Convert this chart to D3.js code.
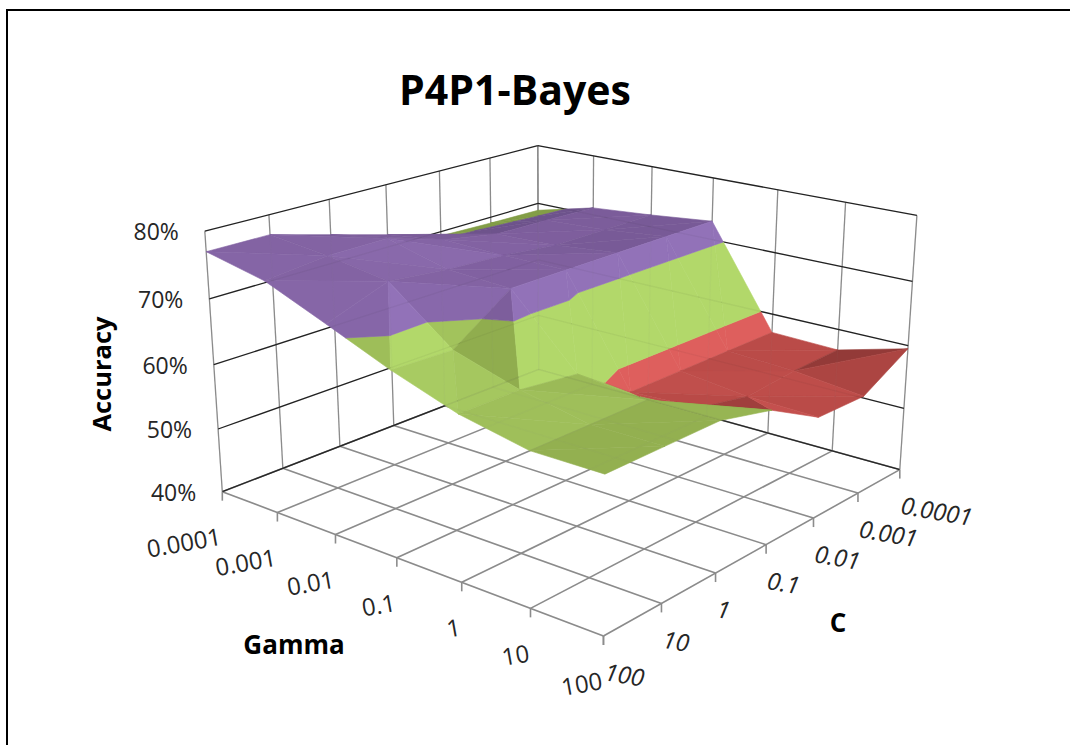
<!DOCTYPE html>
<html><head><meta charset="utf-8">
<script src="https://cdn.jsdelivr.net/npm/d3@7"></script>
<style>html,body{margin:0;background:#fff}svg{display:block}text{font-family:"Open Sans",sans-serif}</style></head>
<body><svg id="c" width="1070" height="745"></svg>
<script>
const gammaLabels=["0.0001","0.001","0.01","0.1","1","10","100"];
const cLabels=["100","10","1","0.1","0.01","0.001","0.0001"];
const zTicks=[40,50,60,70,80];
// accuracy per gamma row, C ordered 100 .. 0.0001
const g0=[77,77,74.5,72,69.3,69,68.8];
const g1=[75,76,76,73.3,71.7,71.5,71.2];
const g2=[71.2,74.5,73.5,73,72,72,72];
const g3=[67.3,67,73,73,73,73,73];
const g4=[64,64,63,57,57,57,57];
const g5=[62,62,62,57.5,55.8,56.5,56.7];
const g6=[62,62,62,60,55.5,55.3,59.5];
const accuracy=[g0,g1,g2,g3,g4,g5,g6];
// fold direction of each grid cell: 0 = low-low to high-high corner, 1 = the other diagonal
const f0=[0,0,0,0,0,0];
const f1=[0,0,0,0,0,0];
const f2=[1,0,0,0,0,0];
const f3=[1,1,1,1,1,1];
const f4=[0,0,1,0,0,0];
const f5=[0,0,0,1,0,0];
const folds=[f0,f1,f2,f3,f4,f5];

const svg=d3.select("#c");
const gS=d3.scalePoint(gammaLabels,[0,1]), cS=d3.scalePoint(cLabels,[0,1]), zS=d3.scaleLinear([40,80],[0,1]);
// camera calibration: box position -> pixel, solved to a projective camera
const calib=[[0,0,0,222,491],[1,0,0,603,636],[1,1,0,900,469],[0,1,0,538,370],[0,0,1,205,232],[1,1,1,917,216],[0,1,1,538,143],
[.5,0,0,396,559],[1,.5,0,767,544],[0,.5,0,395,425],[.5,1,1,713,179],[0,0,.5,214,364],[1,1,.5,908,345],[0,1,.5,538,262]];
function solve(A,b){const n=b.length;const M=A.map((r,i)=>[...r,b[i]]);
 for(let i=0;i<n;i++){let p=i;for(let k=i+1;k<n;k++)if(Math.abs(M[k][i])>Math.abs(M[p][i]))p=k;[M[i],M[p]]=[M[p],M[i]];
  for(let k=0;k<n;k++)if(k!==i){const f=M[k][i]/M[i][i];for(let j=i;j<=n;j++)M[k][j]-=f*M[i][j];}}
 return M.map((r,i)=>r[n]/r[i]);}
const rows=[],rhs=[];
calib.forEach(([X,Y,Z,u,v])=>{rows.push([X,Y,Z,1,0,0,0,0,-u*X,-u*Y,-u*Z]);rhs.push(u);rows.push([0,0,0,0,X,Y,Z,1,-v*X,-v*Y,-v*Z]);rhs.push(v);});
const AtA=d3.range(11).map(i=>d3.range(11).map(j=>d3.sum(rows,r=>r[i]*r[j])));
const Atb=d3.range(11).map(i=>d3.sum(rows,(r,k)=>r[i]*rhs[k]));
const P=solve(AtA,Atb);
function proj(X,Y,Z){const w=P[8]*X+P[9]*Y+P[10]*Z+1;return [(P[0]*X+P[1]*Y+P[2]*Z+P[3])/w,(P[4]*X+P[5]*Y+P[6]*Z+P[7])/w];}
const lineP=d3.line(), polyP=d3.line().curve(d3.curveLinearClosed);
const gridGray="#8c8c8c", wallDark="#222";
function grid(host,op){
 const seg=(a,b,col,w)=>host.append("path").attr("d",lineP([proj(...a),proj(...b)])).attr("stroke",col).attr("stroke-width",w).attr("fill","none").attr("stroke-opacity",op);
 gammaLabels.forEach(l=>{const g=gS(l);seg([g,1,0],[g,1,1],gridGray,1.3);seg([g,0,0],[g,1,0],gridGray,1.6);});
 cLabels.forEach(l=>{const c=cS(l);seg([0,c,0],[0,c,1],gridGray,1.3);seg([0,c,0],[1,c,0],gridGray,1.6);});
 zTicks.forEach(z=>{const k=zS(z);seg([0,0,k],[0,1,k],wallDark,1.3);seg([0,1,k],[1,1,k],wallDark,1.3);});
}
const pG=svg.append("g");
grid(pG,1);
gammaLabels.forEach(l=>{const g=gS(l),p=proj(g,0,0);pG.append("line").attr("x1",p[0]).attr("x2",p[0]).attr("y1",p[1]).attr("y2",p[1]+9).attr("stroke",gridGray).attr("stroke-width",1.6);});
cLabels.forEach(l=>{const c=cS(l),p=proj(1,c,0);pG.append("line").attr("x1",p[0]).attr("x2",p[0]).attr("y1",p[1]).attr("y2",p[1]+9).attr("stroke",gridGray).attr("stroke-width",1.6);});

// surface
const bands=[{lo:40,hi:50,col:["#3a5f8f","#4f81bd","#6a9bd6"]},{lo:50,hi:60,col:["#933a38","#b84a47","#de5f5d"]},{lo:60,hi:70,col:["#7f9a45","#93b050","#b2d86a"]},{lo:70,hi:80,col:["#6a5088","#80609f","#9272b8"]}];
function clip(poly,lo,hi){
 const cut=(pts,f)=>{const o=[];pts.forEach((a,i)=>{const b=pts[(i+1)%pts.length],fa=f(a),fb=f(b);if(fa>=0)o.push(a);if((fa>=0)!==(fb>=0)){const t=fa/(fa-fb);o.push(a.map((v,j)=>v+t*(b[j]-v)));}});return o;};
 return cut(cut(poly,p=>p[2]-lo),p=>hi-p[2]);
}
const gN=gammaLabels.length,cN=cLabels.length;
const shade=(tri)=>{const [a,b,c]=tri;const u=[b[0]-a[0],b[1]-a[1],(b[2]-a[2])/10],v=[c[0]-a[0],c[1]-a[1],(c[2]-a[2])/10];
 let n=[u[1]*v[2]-u[2]*v[1],u[2]*v[0]-u[0]*v[2],u[0]*v[1]-u[1]*v[0]];if(n[2]<0)n=n.map(x=>-x);const L=Math.hypot(...n);n=n.map(x=>x/L);
 return n[0]*1.2+n[1]*0.5+n[2]*0.6;};
const surf=svg.append("g");
function drawTri(tri){const b=shade(tri);
 bands.forEach(bd=>{const pl=clip(tri,bd.lo,bd.hi);if(pl.length<3)return;
  const col=b<0.6?d3.interpolateRgb(bd.col[0],bd.col[1])(Math.max(0,(b-0.25)/0.35)):d3.interpolateRgb(bd.col[1],bd.col[2])(Math.pow(Math.min(1,(b-0.6)/0.5),1.2));
  surf.append("path").attr("d",polyP(pl.map(p=>proj(p[0]/(gN-1),p[1]/(cN-1),zS(p[2]))))).attr("fill",col).attr("stroke",col).attr("stroke-width",.6);
 });}
const V=(g,c)=>[g,c,accuracy[g][c]];
for(let g=0;g<gN-1;g++)for(let c=cN-2;c>=0;c--){
 if(folds[g][c]===1){drawTri([V(g,c),V(g,c+1),V(g+1,c)]);drawTri([V(g,c+1),V(g+1,c),V(g+1,c+1)]);}
 else{drawTri([V(g,c),V(g,c+1),V(g+1,c+1)]);drawTri([V(g,c),V(g+1,c),V(g+1,c+1)]);}
}
grid(svg.append("g"),0.05);
const txt=(x,y,s,size,opt={})=>{const t=svg.append("text").attr("x",x).attr("y",y).attr("font-size",size).attr("fill",opt.fill||"#262626").text(s);if(opt.w)t.attr("font-weight",opt.w);if(opt.a)t.attr("text-anchor",opt.a);if(opt.rot!=null)t.attr("transform",`rotate(${opt.rot} ${x} ${y})`);if(opt.i)t.attr("font-style","italic");return t;};
svg.append("rect").attr("x",7).attr("y",10).attr("width",1200).attr("height",900).attr("fill","none").attr("stroke","#000").attr("stroke-width",2);
txt(515,105,"P4P1-Bayes",41,{w:700,a:"middle",fill:"#000"});
zTicks.forEach(z=>{const p=proj(0,0,zS(z));txt(p[0]-26,p[1]+9,z+"%",23,{a:"end"});});
gammaLabels.forEach(l=>{const p=proj(gS(l),0,0);txt(p[0],p[1]+53,l,24,{a:"end",rot:-10});});
cLabels.forEach(l=>{const p=proj(1,cS(l),0);txt(p[0],p[1]+44,l,24,{a:"start",rot:10,i:true});});
txt(111,374,"Accuracy",25.5,{w:700,a:"middle",rot:-90,fill:"#000"});
txt(294,654,"Gamma",26,{w:700,a:"middle",fill:"#000"});
txt(838,632,"C",26,{w:700,a:"middle",fill:"#000"});
</script></body></html>
